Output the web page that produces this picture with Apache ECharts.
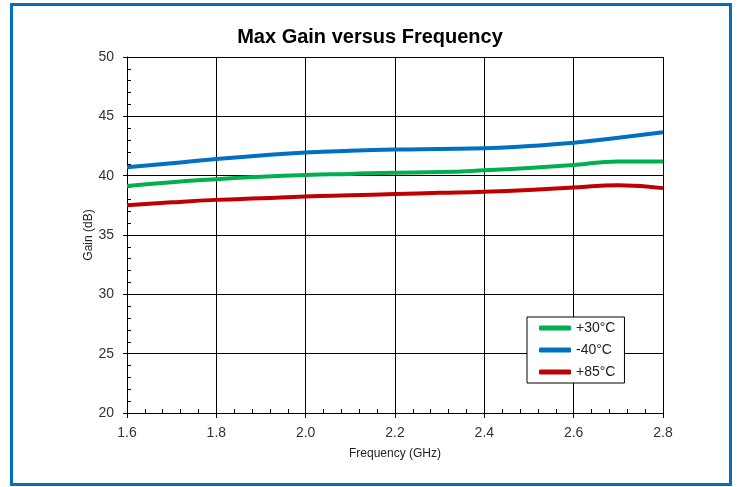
<!DOCTYPE html>
<html>
<head>
<meta charset="utf-8">
<title>Max Gain versus Frequency</title>
<script src="https://cdn.jsdelivr.net/npm/echarts@6/dist/echarts.min.js"></script>
<style>
html, body { margin: 0; padding: 0; background: #fff; }
#main { width: 740px; height: 487px; }
</style>
</head>
<body>
<div id="main"></div>
<script>
var freqs = [1.6, 1.7, 1.8, 1.9, 2.0, 2.1, 2.2, 2.3, 2.4, 2.5, 2.6, 2.7, 2.8];
var gain30 = [39.12, 39.45, 39.7, 39.9, 40.05, 40.15, 40.25, 40.3, 40.45, 40.65, 40.9, 41.2, 41.2];
var gainM40 = [40.7, 41.05, 41.4, 41.7, 41.95, 42.1, 42.2, 42.25, 42.3, 42.5, 42.77, 43.2, 43.65];
var gain85 = [37.5, 37.75, 37.96, 38.1, 38.25, 38.35, 38.45, 38.55, 38.65, 38.8, 39.0, 39.2, 38.95];
var seriesNames = ['+30°C', '-40°C', '+85°C'];
var seriesColors = ['#00b050', '#0070c0', '#c00000'];

function pairs(ys) {
    var res = [];
    for (var i = 0; i < freqs.length; i++) {
        res.push([freqs[i], ys[i]]);
    }
    return res;
}

var myChart = echarts.init(document.getElementById('main'));
var font = 'Liberation Sans, Arial, sans-serif';

var option = {
    animation: false,
    title: {
        text: 'Max Gain versus Frequency',
        left: 'center',
        top: 22,
        textStyle: { fontSize: 20, fontWeight: 'bold', color: '#000', fontFamily: font }
    },
    graphic: [{
        type: 'rect',
        shape: { x: 11.5, y: 4.5, width: 719, height: 480 },
        style: { fill: 'none', stroke: '#0070c0', lineWidth: 3 }
    }],
    legend: {
        orient: 'vertical',
        left: 527,
        top: 317,
        padding: [4, 9, 4, 12],
        itemGap: 8,
        itemWidth: 32,
        itemHeight: 5,
        icon: 'roundRect',
        borderColor: '#000',
        borderWidth: 1,
        backgroundColor: '#fff',
        textStyle: { fontSize: 14, color: '#222', fontFamily: font },
        data: seriesNames
    },
    grid: { left: 127, right: 77, top: 57, bottom: 74 },
    xAxis: [{
        type: 'value',
        min: 1.6,
        max: 2.8,
        interval: 0.2,
        name: 'Frequency (GHz)',
        nameLocation: 'middle',
        nameGap: 35,
        nameTextStyle: { fontSize: 12, color: '#222', fontFamily: font },
        axisLine: { lineStyle: { color: '#000', width: 1 } },
        axisTick: { length: 5, lineStyle: { color: '#000' } },
        axisLabel: {
            fontSize: 14, color: '#333', fontFamily: font, margin: 13,
            formatter: function (v) { return v.toFixed(1); }
        },
        splitLine: { show: true, lineStyle: { color: '#000', width: 1 } }
    }, {
        type: 'value',
        min: 1.6,
        max: 2.8,
        interval: 0.04,
        position: 'bottom',
        axisLine: { show: false },
        axisTick: { inside: true, length: 4, lineStyle: { color: '#000' } },
        axisLabel: { show: false },
        splitLine: { show: false }
    }],
    yAxis: [{
        type: 'value',
        min: 20,
        max: 50,
        interval: 5,
        name: 'Gain (dB)',
        nameLocation: 'middle',
        nameGap: 32,
        nameMoveOverlap: false,
        nameTextStyle: { fontSize: 12, color: '#222', fontFamily: font },
        axisLine: { show: true, lineStyle: { color: '#000', width: 1 } },
        axisTick: { show: true, length: 4, lineStyle: { color: '#000' } },
        axisLabel: { fontSize: 14, color: '#333', fontFamily: font, margin: 13 },
        splitLine: { show: true, lineStyle: { color: '#000', width: 1 } }
    }, {
        type: 'value',
        min: 20,
        max: 50,
        interval: 1,
        position: 'left',
        axisLine: { show: false },
        axisTick: { show: true, inside: true, length: 4, lineStyle: { color: '#000' } },
        axisLabel: { show: false },
        splitLine: { show: false }
    }],
    series: [gain30, gainM40, gain85].map(function (ys, i) {
        return {
            name: seriesNames[i],
            type: 'line',
            xAxisIndex: 0,
            yAxisIndex: 0,
            data: pairs(ys),
            smooth: true,
            showSymbol: false,
            symbol: 'none',
            color: seriesColors[i],
            lineStyle: { width: 4, color: seriesColors[i] }
        };
    })
};

myChart.setOption(option);
</script>
</body>
</html>
